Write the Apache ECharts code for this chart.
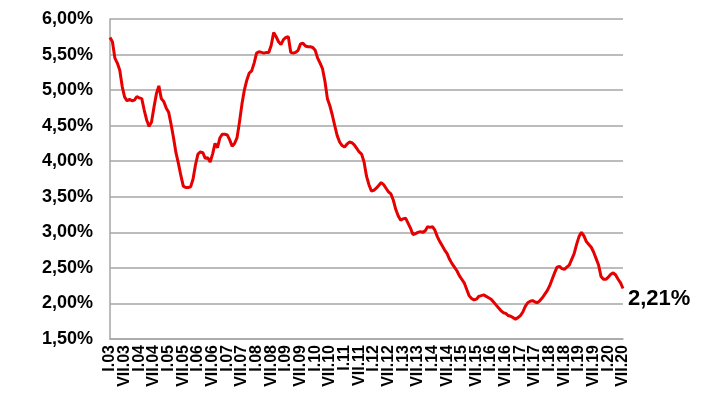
<!DOCTYPE html>
<html>
<head>
<meta charset="utf-8">
<script src="https://cdn.jsdelivr.net/npm/echarts@6/dist/echarts.min.js"></script>
<style>
  html, body { margin: 0; padding: 0; background: #fff; }
  #chart { width: 714px; height: 401px; }
</style>
</head>
<body>
<div id="chart"></div>
<script>
// monthly values, %, January 2003 - July 2020
const y2003 = [5.74, 5.68, 5.45, 5.38, 5.28, 5.05, 4.90, 4.85, 4.87, 4.85, 4.86, 4.91];
const y2004 = [4.89, 4.88, 4.72, 4.58, 4.49, 4.55, 4.76, 4.95, 5.06, 4.88, 4.84, 4.75];
const y2005 = [4.69, 4.52, 4.33, 4.12, 3.97, 3.80, 3.65, 3.63, 3.63, 3.64, 3.75, 3.95];
const y2006 = [4.10, 4.13, 4.12, 4.04, 4.05, 3.99, 4.10, 4.25, 4.19, 4.33, 4.38, 4.38];
const y2007 = [4.37, 4.30, 4.21, 4.25, 4.33, 4.55, 4.80, 5.00, 5.14, 5.24, 5.27, 5.38];
const y2008 = [5.52, 5.54, 5.53, 5.52, 5.53, 5.53, 5.63, 5.81, 5.75, 5.68, 5.64, 5.71];
const y2009 = [5.74, 5.75, 5.53, 5.52, 5.53, 5.56, 5.65, 5.66, 5.62, 5.61, 5.61, 5.60];
const y2010 = [5.56, 5.45, 5.38, 5.30, 5.12, 4.88, 4.78, 4.65, 4.50, 4.36, 4.27, 4.22];
const y2011 = [4.20, 4.24, 4.27, 4.26, 4.23, 4.18, 4.13, 4.10, 3.99, 3.79, 3.67, 3.58];
const y2012 = [3.59, 3.62, 3.66, 3.70, 3.67, 3.62, 3.57, 3.54, 3.45, 3.32, 3.23, 3.17];
const y2013 = [3.19, 3.20, 3.13, 3.06, 2.97, 2.98, 3.00, 3.01, 3.00, 3.02, 3.08, 3.07];
const y2014 = [3.08, 3.03, 2.94, 2.87, 2.81, 2.75, 2.70, 2.62, 2.56, 2.51, 2.46, 2.39];
const y2015 = [2.34, 2.29, 2.20, 2.11, 2.07, 2.05, 2.06, 2.10, 2.11, 2.12, 2.10, 2.08];
const y2016 = [2.06, 2.02, 1.98, 1.94, 1.90, 1.87, 1.86, 1.83, 1.82, 1.80, 1.78, 1.80];
const y2017 = [1.83, 1.88, 1.96, 2.01, 2.03, 2.04, 2.02, 2.01, 2.04, 2.08, 2.13, 2.18];
const y2018 = [2.25, 2.34, 2.43, 2.51, 2.52, 2.49, 2.48, 2.51, 2.54, 2.62, 2.70, 2.83];
const y2019 = [2.94, 3.00, 2.95, 2.87, 2.83, 2.79, 2.72, 2.63, 2.54, 2.38, 2.34, 2.34];
const y2020 = [2.37, 2.41, 2.43, 2.40, 2.34, 2.29, 2.21];

const yearData = [y2003, y2004, y2005, y2006, y2007, y2008, y2009, y2010, y2011,
  y2012, y2013, y2014, y2015, y2016, y2017, y2018, y2019, y2020];
const romanMonths = ["I", "II", "III", "IV", "V", "VI", "VII", "VIII", "IX", "X", "XI", "XII"];

let months = [];
let values = [];
yearData.forEach((arr, k) => {
  let yy = String(3 + k).padStart(2, "0");
  arr.forEach((v, m) => {
    months.push(romanMonths[m] + "." + yy);
    values.push(v);
  });
});

const fmt = (v) => v.toFixed(2).replace(".", ",") + "%";

const chart = echarts.init(document.getElementById("chart"));
chart.setOption({
  animation: false,
  grid: {
    left: 110,
    right: 91,
    top: 19,
    bottom: 62,
  },
  xAxis: {
    type: "category",
    boundaryGap: false,
    data: months,
    axisLine: { lineStyle: { color: "#a6a6a6", width: 1.5 } },
    axisTick: { show: false },
    axisLabel: {
      // interval 0 keeps every label; only I and VII are printed
      interval: 0,
      formatter: (v, i) => (i % 6 === 0 ? v : ""),
      rotate: 90,
      margin: 6,
      color: "#000",
      fontFamily: "Liberation Sans",
      fontWeight: "bold",
      fontSize: 16,
    },
  },
  yAxis: {
    type: "value",
    min: 1.5,
    max: 6,
    interval: 0.5,
    axisLine: { show: true, lineStyle: { color: "#a6a6a6", width: 1.5 } },
    axisTick: { show: false },
    splitLine: { lineStyle: { color: "#a6a6a6", width: 1.5 } },
    axisLabel: {
      formatter: fmt,
      margin: 17,
      color: "#000",
      fontFamily: "Liberation Sans",
      fontWeight: "bold",
      fontSize: 18,
    },
  },
  series: [
    {
      type: "line",
      data: values,
      showSymbol: false,
      lineStyle: { color: "#e60000", width: 3 },
      itemStyle: { color: "#e60000" },
      endLabel: {
        show: true,
        formatter: (p) => fmt(p.value),
        offset: [0, 10],
        distance: 5,
        color: "#000",
        fontFamily: "Liberation Sans",
        fontWeight: "bold",
        fontSize: 22,
      },
    },
  ],
});
</script>
</body>
</html>
